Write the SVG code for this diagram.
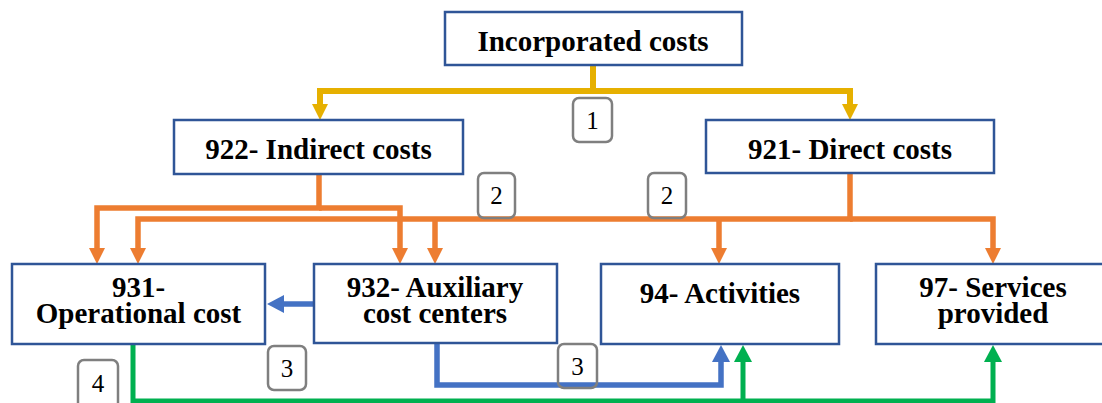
<svg xmlns="http://www.w3.org/2000/svg" width="1102" height="403" viewBox="0 0 1102 403">
<style>
.box{fill:#fff;stroke:#2F5597;stroke-width:2.5}
.t{font-family:"Liberation Serif","Times New Roman",serif;font-weight:bold;font-size:29px;text-anchor:middle;fill:#000}
.lab{fill:none;stroke:#7F7F7F;stroke-width:2.5}
.lt{font-family:"Liberation Serif","Times New Roman",serif;font-size:25px;text-anchor:middle;fill:#000}
.y{fill:none;stroke:#E6B000;stroke-width:6}
.o{fill:none;stroke:#ED7D31;stroke-width:5.5}
.b{fill:none;stroke:#4472C4;stroke-width:5.5}
.g{fill:none;stroke:#00B050;stroke-width:5}
</style>
<defs>
<marker id="ay" markerUnits="userSpaceOnUse" markerWidth="16" markerHeight="16" refX="0" refY="8" orient="auto"><path d="M0,0 L16,8 L0,16 z" fill="#E6B000"/></marker>
<marker id="ao" markerUnits="userSpaceOnUse" markerWidth="16" markerHeight="16" refX="0" refY="8" orient="auto"><path d="M0,0 L16,8 L0,16 z" fill="#ED7D31"/></marker>
<marker id="ab" markerUnits="userSpaceOnUse" markerWidth="17" markerHeight="18" refX="0" refY="9" orient="auto"><path d="M0,0 L17,9 L0,18 z" fill="#4472C4"/></marker>
<marker id="ag" markerUnits="userSpaceOnUse" markerWidth="17" markerHeight="18" refX="0" refY="9" orient="auto"><path d="M0,0 L17,9 L0,18 z" fill="#00B050"/></marker>
</defs>

<g id="connectors">
<path class="y" d="M593,66 V91 H320 V104" marker-end="url(#ay)"/>
<path class="y" d="M593,91 H850 V104" marker-end="url(#ay)"/>
<path class="o" d="M319,174 V208 H97 V248" marker-end="url(#ao)"/>
<path class="o" d="M319,208 H400 V248" marker-end="url(#ao)"/>
<path class="o" d="M850,173 V219 H138 V248" marker-end="url(#ao)"/>
<path class="o" d="M435,219 V248" marker-end="url(#ao)"/>
<path class="o" d="M719,219 V248" marker-end="url(#ao)"/>
<path class="o" d="M850,219 H993 V248" marker-end="url(#ao)"/>
<path class="b" d="M314,304 H284" marker-end="url(#ab)"/>
<path class="b" d="M437,344 V385 H721 V362" marker-end="url(#ab)"/>
<path class="g" d="M133,344 V401 H993 V362" marker-end="url(#ag)"/>
<path class="g" d="M743,401 V362" marker-end="url(#ag)"/>
</g>

<g id="n-incorporated"><rect class="box" x="445" y="12" width="297" height="53"/><text class="t" x="593" y="51">Incorporated costs</text></g>
<g id="n-922"><rect class="box" x="174" y="120" width="289" height="54"/><text class="t" x="318.5" y="159">922- Indirect costs</text></g>
<g id="n-921"><rect class="box" x="706" y="120" width="288" height="53"/><text class="t" x="850" y="159">921- Direct costs</text></g>
<g id="n-931"><rect class="box" x="12" y="264" width="253" height="80"/><text class="t" x="138.5" y="297">931-</text><text class="t" x="138.5" y="323">Operational cost</text></g>
<g id="n-932"><rect class="box" x="314" y="264" width="243" height="79"/><text class="t" x="435" y="297">932- Auxiliary</text><text class="t" x="435" y="323">cost centers</text></g>
<g id="n-94"><rect class="box" x="601" y="264" width="238" height="80"/><text class="t" x="720" y="303">94- Activities</text></g>
<g id="n-97"><rect class="box" x="876" y="264" width="240" height="80"/><text class="t" x="993" y="297">97- Services</text><text class="t" x="993" y="323">provided</text></g>

<g id="labels">
<g id="l1"><rect class="lab" x="573" y="98" width="39" height="44" rx="6"/><text class="lt" x="592.5" y="129">1</text></g>
<g id="l2a"><rect class="lab" x="478" y="173" width="37" height="45" rx="6"/><text class="lt" x="496.5" y="204">2</text></g>
<g id="l2b"><rect class="lab" x="648" y="173" width="38" height="45" rx="6"/><text class="lt" x="667" y="204">2</text></g>
<g id="l3a"><rect class="lab" x="268" y="346" width="38" height="44" rx="6"/><text class="lt" x="287" y="377">3</text></g>
<g id="l3b"><rect class="lab" x="558" y="344" width="39" height="44" rx="6"/><text class="lt" x="577.5" y="375">3</text></g>
<g id="l4"><rect class="lab" x="78" y="360" width="40" height="50" rx="6"/><text class="lt" x="98" y="392">4</text></g>
</g>
</svg>
